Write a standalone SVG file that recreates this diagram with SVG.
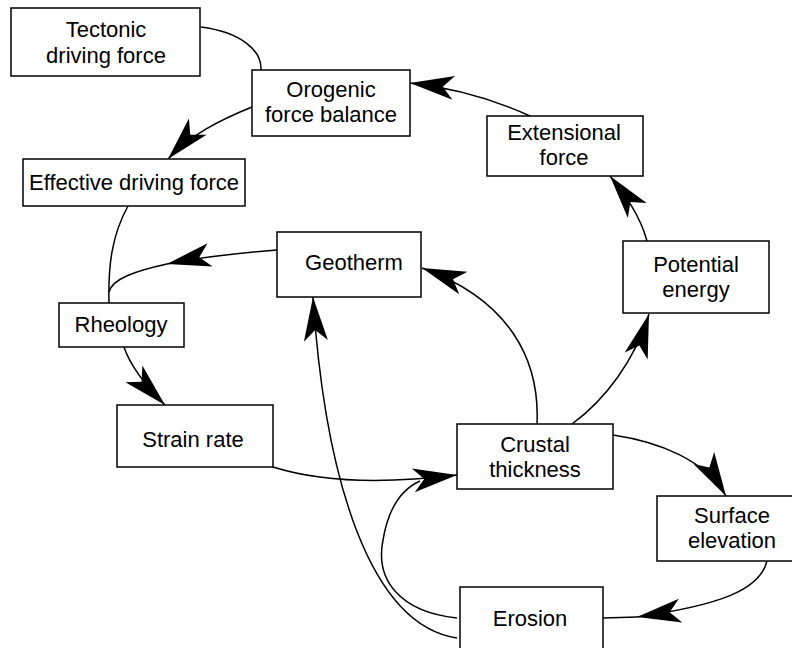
<svg xmlns="http://www.w3.org/2000/svg" width="792" height="648" viewBox="0 0 792 648">
<style>
.box{fill:#fff;stroke:#000;stroke-width:1.5}
.t{font-family:"Liberation Sans",Arial,sans-serif;font-size:22px;text-anchor:middle;fill:#000}
.c{fill:none;stroke:#000;stroke-width:1.5}
.a{marker-end:url(#ah)}
</style>
<defs>
<marker id="ah" markerUnits="userSpaceOnUse" markerWidth="50" markerHeight="32" viewBox="-46 -16 50 32" refX="0" refY="0" orient="auto">
<path d="M0,0 L-44,-12 L-33,0 L-44,12 Z" fill="#000"/>
</marker>
</defs>
<rect width="792" height="648" fill="#fff"/>
<g id="connectors">
<path class="c" d="M201,27 C240,32 262,50 261,70"/>
<path class="c a" d="M252,107 C220,120 190,135 168,159"/>
<path class="c" d="M128,206 C112,235 108,265 109,303"/>
<path class="c a" d="M277,250 C240,253 200,257 167,264"/>
<path class="c" d="M167,264 C135,271 112,279 109,292"/>
<path class="c a" d="M124,347 C130,365 145,385 165,405"/>
<path class="c a" d="M273,467 C330,485 400,482 457,475"/>
<path class="c" d="M457,618 C400,612 375,580 383,540 C388,510 400,490 420,481"/>
<path class="c a" d="M457,638 C370,625 325,480 313,297"/>
<path class="c a" d="M537,424 C540,360 510,300 422,268"/>
<path class="c a" d="M572,424 C605,400 635,360 649,314"/>
<path class="c a" d="M647,241 C640,215 625,195 610,176"/>
<path class="c a" d="M530,116 C495,100 455,88 410,83"/>
<path class="c a" d="M613,435 C660,442 705,460 726,496"/>
<path class="c a" d="M767,561 C760,590 720,605 637,617"/>
<path class="c" d="M637,617 L603,618"/>
</g>
<g id="tectonic"><rect class="box" x="11" y="8" width="189" height="68"/><text class="t" x="106" y="37">Tectonic</text><text class="t" x="106" y="63">driving force</text></g>
<g id="orogenic"><rect class="box" x="252" y="70" width="158" height="66"/><text class="t" x="331" y="97">Orogenic</text><text class="t" x="331" y="122">force balance</text></g>
<g id="effective"><rect class="box" x="23" y="159" width="222" height="47"/><text class="t" x="134" y="190">Effective driving force</text></g>
<g id="rheology"><rect class="box" x="59" y="303" width="125" height="44"/><text class="t" x="121" y="332">Rheology</text></g>
<g id="geotherm"><rect class="box" x="277" y="232" width="144" height="65"/><text class="t" x="354" y="270">Geotherm</text></g>
<g id="strain"><rect class="box" x="117" y="405" width="156" height="62"/><text class="t" x="193" y="447">Strain rate</text></g>
<g id="crustal"><rect class="box" x="457" y="424" width="156" height="65"/><text class="t" x="535" y="452">Crustal</text><text class="t" x="535" y="477">thickness</text></g>
<g id="surface"><rect class="box" x="657" y="496" width="150" height="65"/><text class="t" x="732" y="523">Surface</text><text class="t" x="732" y="548">elevation</text></g>
<g id="erosion"><rect class="box" x="460" y="587" width="143" height="70"/><text class="t" x="530" y="626">Erosion</text></g>
<g id="extensional"><rect class="box" x="487" y="116" width="156" height="60"/><text class="t" x="564" y="140">Extensional</text><text class="t" x="564" y="165">force</text></g>
<g id="potential"><rect class="box" x="623" y="241" width="146" height="72"/><text class="t" x="696" y="272">Potential</text><text class="t" x="696" y="297">energy</text></g>
</svg>
